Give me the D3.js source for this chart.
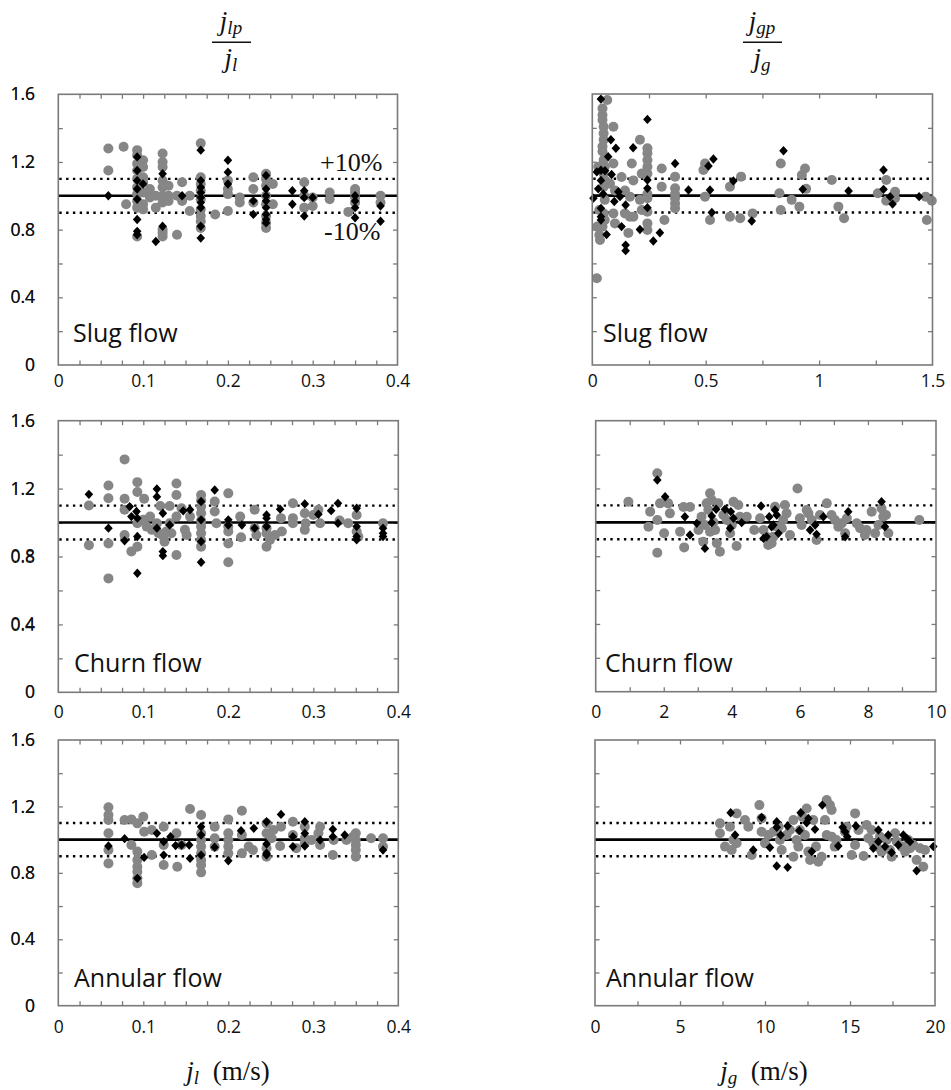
<!DOCTYPE html>
<html>
<head>
<meta charset="utf-8">
<script src="https://cdn.jsdelivr.net/npm/d3@7"></script>
<style>
  body { margin: 0; background: #fff; }
  svg { display: block; }
</style>
</head>
<body>
<script>
// ---- Measured ratios: gray circles and black diamonds, [superficial velocity, ratio] ----
const slugJlCircles = [
  [0.059,1.28],[0.059,1.15],[0.077,1.29],[0.08,0.95],
  [0.093,1.27],[0.093,1.24],[0.093,1.19],[0.093,1.15],[0.093,1.10],[0.093,1.05],[0.093,1.01],[0.093,0.97],[0.093,0.93],[0.093,0.76],
  [0.1,1.21],[0.1,1.17],[0.1,1.11],[0.1,1.08],[0.1,1.02],[0.1,0.95],[0.1,0.92],
  [0.108,1.04],[0.108,0.99],[0.115,1.0],[0.115,0.93],
  [0.123,1.25],[0.123,1.2],[0.123,1.17],[0.123,1.09],[0.123,1.05],[0.123,1.0],[0.123,0.96],[0.123,0.8],[0.123,0.78],[0.123,0.76],
  [0.13,1.06],[0.13,1.0],[0.13,0.97],[0.14,0.77],[0.14,1.0],[0.146,1.08],[0.146,0.97],[0.155,1.0],[0.155,0.91],
  [0.168,1.31],[0.168,1.11],[0.168,1.07],[0.168,1.03],[0.168,0.98],[0.168,0.92],[0.168,0.88],[0.168,0.85],[0.168,0.81],
  [0.185,0.89],[0.2,1.09],[0.2,1.04],[0.2,1.01],[0.2,0.91],[0.214,0.99],[0.214,0.96],
  [0.23,1.11],[0.23,1.04],[0.23,0.96],
  [0.245,1.13],[0.245,1.1],[0.245,1.06],[0.245,1.0],[0.245,0.95],[0.245,0.88],[0.245,0.84],[0.245,0.81],
  [0.253,1.07],[0.253,0.95],[0.29,1.08],[0.29,1.0],[0.29,0.93],[0.3,0.94],[0.3,0.99],
  [0.32,1.02],[0.32,0.98],[0.342,0.905],[0.35,1.04],[0.35,1.02],[0.35,0.99],[0.35,0.96],[0.38,1.0],[0.38,0.96]
];
const slugJlDiamonds = [
  [0.059,1.0],
  [0.093,1.23],[0.093,1.15],[0.093,1.09],[0.093,1.04],[0.093,0.98],[0.093,0.86],[0.093,0.79],[0.093,0.77],
  [0.1,1.07],[0.115,0.73],[0.123,1.13],[0.123,0.82],[0.146,1.0],
  [0.168,1.27],[0.168,1.09],[0.168,1.05],[0.168,1.02],[0.168,0.99],[0.168,0.96],[0.168,0.93],[0.168,0.82],[0.168,0.75],
  [0.2,1.21],[0.2,1.14],[0.2,1.07],[0.23,0.97],[0.23,0.89],
  [0.245,1.12],[0.245,1.04],[0.245,1.0],[0.245,0.97],[0.245,0.93],[0.245,0.89],[0.245,0.86],[0.245,0.84],
  [0.276,1.03],[0.276,0.95],[0.29,1.03],[0.29,0.99],[0.29,0.88],[0.3,0.99],
  [0.35,1.0],[0.35,0.97],[0.35,0.93],[0.35,0.87],[0.38,0.94],[0.38,0.85]
];

const slugJgCircles = [
  [0.02,0.512],[0.026,1.17],[0.031,0.915],[0.022,0.817],[0.031,0.768],[0.034,0.738],
  [0.045,1.515],[0.045,1.476],[0.045,1.447],[0.05,1.407],[0.05,1.368],[0.05,1.33],[0.045,1.29],[0.045,1.26],
  [0.05,1.21],[0.055,1.17],[0.05,1.13],[0.055,1.09],[0.05,1.053],[0.055,0.975],[0.05,0.895],[0.055,0.856],[0.045,0.817],
  [0.066,1.565],[0.093,1.407],[0.093,1.19],[0.078,1.07],[0.1,1.03],[0.093,0.895],[0.1,0.836],
  [0.129,1.11],[0.144,1.03],[0.144,0.895],[0.159,0.78],[0.166,0.994],[0.166,0.876],[0.181,0.876],[0.181,1.09],
  [0.174,1.19],[0.21,1.33],[0.218,1.13],[0.21,0.975],[0.218,0.915],
  [0.243,1.28],[0.243,1.25],[0.243,1.21],[0.243,1.17],[0.243,1.13],[0.243,1.01],[0.243,0.984],[0.243,0.905],[0.243,0.836],[0.243,0.797],
  [0.306,1.16],[0.306,1.053],[0.318,0.856],
  [0.365,1.112],[0.365,1.043],[0.365,1.01],[0.365,0.984],[0.365,0.954],[0.365,0.925],
  [0.497,1.19],[0.49,1.151],[0.497,0.994],[0.519,0.856],
  [0.607,1.053],[0.607,0.876],[0.652,0.866],[0.656,1.112],[0.707,0.895],
  [0.825,1.014],[0.831,1.19],[0.831,0.915],[0.879,0.975],[0.913,0.935],[0.924,1.122],[0.938,1.16],[0.943,1.04],
  [1.056,1.092],[1.085,0.935],[1.11,0.866],
  [1.259,1.014],[1.296,1.092],[1.296,0.97],[1.335,1.023],[1.335,0.984],[1.47,0.994],[1.475,0.856],[1.497,0.97]
];
const slugJgDiamonds = [
  [0.005,0.985],[0.038,1.57],[0.02,1.14],[0.026,1.04],[0.038,1.15],[0.038,1.09],[0.038,0.925],[0.038,0.876],[0.038,0.856],
  [0.048,1.01],[0.056,1.147],[0.07,1.23],[0.082,1.33],[0.085,1.125],[0.063,0.77],[0.104,1.28],[0.097,0.965],
  [0.115,1.023],[0.122,0.994],[0.129,0.817],[0.147,0.945],[0.147,0.708],[0.147,0.675],[0.18,1.283],[0.21,0.80],
  [0.243,1.45],[0.243,1.092],[0.243,1.043],[0.243,0.929],[0.269,0.732],[0.298,0.781],[0.365,1.19],[0.424,1.033],
  [0.512,1.175],[0.534,1.216],[0.519,1.033],[0.527,0.9],[0.622,1.086],[0.703,0.85],[0.843,1.265],[0.928,1.037],
  [1.13,1.027],[1.284,1.151],[1.284,1.037],[1.313,0.994],[1.324,0.95],[1.441,0.994]
];

const churnJlCircles = [
  [0.036,1.10],[0.036,0.867],[0.059,1.218],[0.059,1.143],[0.059,0.877],[0.059,0.671],
  [0.078,1.372],[0.078,1.14],[0.078,1.075],[0.078,0.927],[0.086,0.83],
  [0.093,1.238],[0.093,1.18],[0.093,0.996],[0.093,0.858],[0.101,1.14],
  [0.1,1.016],[0.104,0.976],[0.108,1.035],[0.11,0.957],[0.116,0.996],[0.118,0.937],[0.124,0.917],[0.125,0.887],
  [0.127,0.947],[0.131,0.996],[0.133,0.937],[0.12,1.097],[0.131,1.097],
  [0.139,1.23],[0.139,1.162],[0.139,1.035],[0.139,0.809],
  [0.145,1.084],[0.149,0.957],[0.151,0.927],[0.155,1.035],
  [0.168,1.162],[0.168,1.13],[0.168,1.094],[0.168,1.055],[0.168,1.01],[0.168,0.976],[0.168,0.937],[0.168,0.897],[0.168,0.858],
  [0.184,1.124],[0.184,1.065],[0.186,0.996],
  [0.2,1.172],[0.2,0.976],[0.2,0.947],[0.2,0.877],[0.2,0.766],
  [0.214,1.035],[0.215,0.913],[0.231,1.075],[0.231,0.967],[0.233,0.927],
  [0.245,0.967],[0.245,0.937],[0.245,0.858],[0.249,0.897],[0.255,0.927],[0.263,0.947],[0.262,1.026],
  [0.276,1.114],[0.276,1.026],[0.276,0.996],[0.29,1.055],[0.29,0.957],[0.291,0.996],[0.3,1.045],[0.306,1.075],[0.308,0.996],
  [0.331,1.012],[0.341,0.996],[0.351,1.045],[0.351,0.947],[0.353,0.917],[0.382,0.996]
];
const churnJlDiamonds = [
  [0.036,1.166],[0.059,0.967],[0.078,0.893],[0.084,1.094],[0.086,1.035],[0.092,1.065],[0.093,1.026],[0.093,0.918],[0.093,0.701],
  [0.116,1.198],[0.116,1.152],[0.116,0.967],[0.123,1.055],[0.123,0.829],[0.123,0.805],[0.131,0.986],
  [0.147,1.069],[0.155,1.075],[0.168,1.124],[0.168,1.016],[0.168,0.888],[0.168,0.766],[0.184,1.192],
  [0.2,1.016],[0.2,0.986],[0.216,0.986],[0.231,0.967],[0.245,1.045],[0.245,1.026],[0.245,0.977],[0.261,1.079],
  [0.29,1.11],[0.306,1.049],[0.321,1.07],[0.329,1.113],[0.329,0.996],
  [0.351,1.084],[0.351,0.977],[0.351,0.918],[0.351,0.898],[0.382,0.967],[0.382,0.937],[0.382,0.918]
];

const churnJgCircles = [
  [0.96,1.122],[1.55,0.974],[1.6,1.063],[1.81,1.29],[1.81,1.014],[1.81,0.82],[1.89,1.112],
  [2.01,0.935],[2.18,1.053],[2.13,1.112],[2.48,0.945],[2.58,1.09],[2.6,0.852],[2.77,1.09],
  [3.02,0.955],[3.11,1.033],[3.16,0.886],[3.21,0.984],[3.26,1.112],[3.36,1.171],[3.41,1.132],[3.31,1.073],
  [3.36,0.945],[3.46,1.0],[3.51,0.955],[3.56,0.876],[3.65,0.827],[3.6,1.112],
  [3.75,1.043],[3.85,1.014],[3.95,0.935],[4.0,0.984],[4.05,1.122],[4.19,1.102],[4.14,0.86],[4.24,1.033],[4.44,1.033],
  [4.66,0.955],[4.83,1.024],[4.93,0.955],[5.02,0.915],[5.07,0.866],[5.17,0.876],[5.22,0.915],[5.27,1.092],
  [5.32,0.974],[5.47,0.965],[5.56,1.102],[5.61,1.053],[5.51,1.014],[5.71,0.925],
  [5.93,1.2],[6.0,1.024],[6.05,0.984],[6.2,1.073],[6.25,1.053],[6.35,1.014],[6.49,0.896],[6.59,1.043],
  [6.79,1.112],[6.93,1.043],[7.03,1.014],[7.13,0.974],[7.23,0.994],[7.33,0.935],[7.38,1.024],
  [7.67,0.994],[7.77,0.965],[7.91,0.925],[7.96,0.955],[8.11,1.063],[8.21,0.935],[8.31,0.984],[8.4,1.082],
  [8.45,1.033],[8.53,1.043],[8.6,0.935],[9.51,1.014]
];
const churnJgDiamonds = [
  [1.81,1.25],[2.04,1.151],[2.62,1.033],[2.77,0.925],[2.97,0.994],[3.21,0.846],[3.41,0.998],[3.41,1.037],[3.54,1.077],
  [3.8,1.077],[3.95,0.965],[3.97,1.063],[4.05,1.024],[4.29,0.998],
  [4.86,1.096],[4.93,0.905],[5.02,0.915],[5.1,1.033],[5.22,0.984],[5.27,1.073],[5.32,1.043],[5.37,0.935],[5.17,0.974],
  [6.3,0.955],[6.45,0.984],[6.49,0.929],[6.69,1.033],[7.33,0.915],[7.42,1.063],[8.4,1.122],[8.5,0.974]
];

const annularJlCircles = [
  [0.059,1.195],[0.059,1.148],[0.059,1.118],[0.059,1.038],[0.059,0.938],[0.059,0.857],
  [0.078,1.118],[0.086,1.122],[0.086,0.968],
  [0.093,1.098],[0.093,0.928],[0.093,0.877],[0.093,0.837],[0.093,0.807],[0.093,0.767],[0.093,0.737],
  [0.1,1.138],[0.101,1.048],[0.11,1.058],[0.11,0.907],[0.124,1.078],[0.124,0.968],[0.124,0.847],
  [0.139,1.038],[0.14,0.837],[0.145,0.968],[0.155,1.184],
  [0.168,1.148],[0.168,1.038],[0.168,0.998],[0.168,0.958],[0.168,0.918],[0.168,0.877],[0.168,0.847],[0.168,0.803],
  [0.184,1.078],[0.184,1.008],[0.184,0.958],
  [0.2,1.122],[0.2,1.038],[0.2,0.998],[0.2,0.958],[0.2,0.918],
  [0.216,1.174],[0.216,1.028],[0.216,0.918],[0.224,0.958],[0.229,0.938],
  [0.245,1.098],[0.245,1.038],[0.245,0.948],[0.245,0.897],[0.251,1.008],[0.253,1.058],[0.261,0.962],[0.262,1.078],
  [0.276,1.108],[0.276,1.028],[0.28,0.948],[0.29,1.078],[0.29,1.008],[0.29,0.978],
  [0.298,0.998],[0.306,1.038],[0.308,1.078],[0.308,0.968],[0.323,0.907],[0.324,0.998],[0.339,0.998],
  [0.35,1.038],[0.35,0.998],[0.35,0.968],[0.35,0.938],[0.35,0.897],[0.347,1.018],
  [0.368,1.008],[0.382,1.008],[0.382,0.958]
];
const annularJlDiamonds = [
  [0.059,0.962],[0.078,1.006],[0.093,0.767],[0.101,0.893],[0.116,1.038],[0.124,0.988],[0.124,0.907],[0.132,1.018],
  [0.138,0.964],[0.145,0.968],[0.154,0.968],[0.155,0.887],[0.168,1.078],[0.168,1.028],[0.168,0.907],
  [0.184,0.954],[0.2,0.873],[0.215,1.054],[0.23,1.068],
  [0.245,1.108],[0.245,0.974],[0.245,0.918],[0.245,0.907],[0.262,1.152],[0.276,1.018],[0.276,0.958],
  [0.29,1.108],[0.29,1.038],[0.29,0.962],[0.308,0.998],[0.323,1.062],[0.323,1.018],[0.337,1.028],[0.382,0.938]
];

const annularJgCircles = [
  [7.35,1.098],[7.35,1.038],[7.65,0.958],[7.94,1.078],[8.04,0.938],[8.14,0.998],[8.33,1.158],[8.33,0.978],
  [8.82,1.118],[9.02,1.078],[9.22,0.907],[9.67,1.208],[9.8,1.128],[9.8,1.048],
  [10.0,0.978],[10.2,1.028],[10.5,1.048],[10.8,1.078],[10.88,0.998],[10.98,0.938],
  [11.27,1.028],[11.47,1.058],[11.67,1.118],[11.67,0.897],[11.86,0.998],[11.96,0.958],
  [12.06,1.058],[12.2,1.138],[12.35,1.028],[12.45,1.188],[12.55,0.928],[12.65,0.877],[12.84,1.118],[13.0,0.958],
  [13.14,0.867],[13.33,0.897],[13.53,1.118],[13.63,1.238],[13.82,1.208],[13.92,1.178],[13.63,1.028],[13.92,1.018],
  [14.1,0.958],[14.2,0.998],[14.7,1.048],[14.8,1.078],[15.1,0.907],[15.3,1.158],[15.3,0.968],[15.5,1.058],
  [15.8,0.901],[15.98,1.088],[16.08,1.008],[16.27,1.058],[16.37,0.978],[16.57,0.958],[16.76,1.018],
  [16.86,0.928],[17.16,0.998],[17.35,0.938],[17.45,0.897],[17.65,1.038],[17.75,0.988],[18.04,0.958],
  [18.24,0.928],[18.43,0.998],[18.53,0.948],[18.73,0.968],[18.92,0.877],[19.12,0.948],[19.31,0.837],[19.41,0.938]
];
const annularJgDiamonds = [
  [7.98,1.162],[8.24,1.028],[9.31,0.938],[9.8,1.134],[10.29,0.952],[10.69,1.108],[10.69,1.074],[10.69,0.841],
  [10.92,1.028],[11.33,1.082],[11.33,0.833],[12.02,1.054],[12.1,1.162],[12.45,1.102],[12.55,1.128],[12.75,0.928],
  [12.94,1.062],[13.37,1.208],[14.31,0.962],[14.57,1.074],[14.71,1.048],[14.84,1.018],[15.35,1.082],
  [16.37,0.948],[16.67,1.058],[16.67,0.988],[17.06,0.958],[17.25,1.028],[17.45,0.922],[17.84,0.968],
  [18.14,1.028],[18.33,1.008],[18.53,0.988],[18.92,0.813],[19.9,0.958]
];

// ---- Axis tick labels ----
const ratioTickLabels = [0, 0.4, 0.8, 1.2, 1.6];
const jlTickLabels = [0, 0.1, 0.2, 0.3, 0.4];
const jgSlugTickLabels = [0, 0.5, 1, 1.5];
const jgChurnTickLabels = [0, 2, 4, 6, 8, 10];
const jgAnnularTickLabels = [0, 5, 10, 15, 20];

// ---- Reference band: ideal ratio and +/-10% ----
const referenceRatio = 1.0;
const bandRatios = [1.1, 0.9];

// ---- Panel layout ----
const panels = [
  { box: [58.3, 397.5, 94.3, 365], xMax: 0.4, minor: 0.025, labels: jlTickLabels, labelY: 381,
    circles: slugJlCircles, diamonds: slugJlDiamonds, name: "Slug flow", nameXY: [73, 342] },
  { box: [592.3, 932.5, 94, 365], xMax: 1.5, minor: 0.25, labels: jgSlugTickLabels, labelY: 381,
    circles: slugJgCircles, diamonds: slugJgDiamonds, name: "Slug flow", nameXY: [603, 342] },
  { box: [58.3, 398.3, 420.7, 692.3], xMax: 0.4, minor: 0.025, labels: jlTickLabels, labelY: 712,
    circles: churnJlCircles, diamonds: churnJlDiamonds, name: "Churn flow", nameXY: [74, 672] },
  { box: [595.7, 936, 420.7, 691.7], xMax: 10, minor: 1, labels: jgChurnTickLabels, labelY: 712,
    circles: churnJgCircles, diamonds: churnJgDiamonds, name: "Churn flow", nameXY: [605, 672] },
  { box: [58.3, 398.3, 740, 1005.7], xMax: 0.4, minor: 0.025, labels: jlTickLabels, labelY: 1027,
    circles: annularJlCircles, diamonds: annularJlDiamonds, name: "Annular flow", nameXY: [74, 987] },
  { box: [595, 935, 740, 1005.7], xMax: 20, minor: 2.5, labels: jgAnnularTickLabels, labelY: 1027,
    circles: annularJgCircles, diamonds: annularJgDiamonds, name: "Annular flow", nameXY: [606, 987] }
];

const W = 951, H = 1090;
const frameColor = "#7a7a7a";
const circleColor = "#868686";
const sansFont = "'Open Sans', 'DejaVu Sans', sans-serif";
const serifFont = "'Liberation Serif', 'DejaVu Serif', serif";

const svg = d3.select("body").append("svg")
  .attr("width", W).attr("height", H)
  .attr("xmlns", "http://www.w3.org/2000/svg");

svg.append("rect").attr("width", W).attr("height", H).attr("fill", "#fff");

const diamondPath = (hw, hh) => `M0,${-hh}L${hw},0L0,${hh}L${-hw},0Z`;

function ticksBetween(max, step) {
  const out = [];
  for (let i = 1; i * step < max - 1e-9; i++) out.push(+(i * step).toFixed(6));
  return out;
}

panels.forEach(p => {
  const [x0, x1, y0, y1] = p.box;
  const x = d3.scaleLinear().domain([0, p.xMax]).range([x0, x1]);
  const y = d3.scaleLinear().domain([0, 1.6]).range([y1, y0]);
  const g = svg.append("g");

  const minorX = ticksBetween(p.xMax, p.minor);
  const minorY = ticksBetween(1.6, 0.2);
  const tickLen = 4.5;

  // inward tick marks on all four sides
  const axes = [
    { ax: d3.axisBottom(x), t: `translate(0,${y1})`, vals: minorX },
    { ax: d3.axisTop(x), t: `translate(0,${y0})`, vals: minorX },
    { ax: d3.axisLeft(y), t: `translate(${x0},0)`, vals: minorY },
    { ax: d3.axisRight(y), t: `translate(${x1},0)`, vals: minorY }
  ];
  axes.forEach(a => {
    const ag = g.append("g").attr("transform", a.t)
      .call(a.ax.tickValues(a.vals).tickSizeInner(-tickLen).tickSizeOuter(0).tickFormat(""));
    ag.select(".domain").remove();
    ag.selectAll("line").attr("stroke", frameColor).attr("stroke-width", 1.3);
  });

  // tick labels
  const xl = g.append("g").attr("transform", `translate(0,${p.labelY})`)
    .call(d3.axisBottom(x).tickValues(p.labels).tickSize(0).tickPadding(0).tickFormat(d => String(d)));
  xl.select(".domain").remove();
  xl.selectAll("text").attr("dy", "0.35em").attr("font-family", sansFont)
    .attr("font-size", 17.5).attr("fill", "#111");

  const yl = g.append("g").attr("transform", `translate(35,0)`)
    .call(d3.axisLeft(y).tickValues(ratioTickLabels).tickSize(0).tickPadding(0).tickFormat(d => String(d)));
  yl.select(".domain").remove();
  yl.selectAll("text").attr("font-family", sansFont).attr("font-size", 17.5).attr("fill", "#111");

  // reference lines
  g.append("line").attr("x1", x0).attr("x2", x1)
    .attr("y1", y(referenceRatio)).attr("y2", y(referenceRatio))
    .attr("stroke", "#000").attr("stroke-width", 2.6);
  bandRatios.forEach(r => {
    g.append("line").attr("x1", x0 + 1).attr("x2", x1)
      .attr("y1", y(r)).attr("y2", y(r))
      .attr("stroke", "#000").attr("stroke-width", 2.4)
      .attr("stroke-dasharray", "2.4,4.4");
  });

  // markers
  g.append("g").selectAll("circle").data(p.circles).join("circle")
    .attr("cx", d => x(d[0])).attr("cy", d => y(d[1])).attr("r", 5)
    .attr("fill", circleColor);
  g.append("g").selectAll("path").data(p.diamonds).join("path")
    .attr("transform", d => `translate(${x(d[0])},${y(d[1])})`)
    .attr("d", diamondPath(4.3, 4.7)).attr("fill", "#000");

  // frame
  g.append("rect").attr("x", x0).attr("y", y0).attr("width", x1 - x0).attr("height", y1 - y0)
    .attr("fill", "none").attr("stroke", frameColor).attr("stroke-width", 1.6);

  // regime name
  g.append("text").attr("x", p.nameXY[0]).attr("y", p.nameXY[1])
    .attr("font-family", sansFont).attr("font-size", 25).attr("fill", "#111").text(p.name);
});

// +/-10% annotations on the first panel
svg.append("text").attr("x", 320).attr("y", 171).attr("font-family", serifFont)
  .attr("font-size", 26).attr("fill", "#111").text("+10%");
svg.append("text").attr("x", 324).attr("y", 240).attr("font-family", serifFont)
  .attr("font-size", 26).attr("fill", "#111").text("-10%");

// column titles: ratio fractions
function fraction(cx, numSub, denSub) {
  const g = svg.append("g").attr("font-family", serifFont).attr("fill", "#111");
  const num = g.append("text").attr("x", cx).attr("y", 30).attr("text-anchor", "middle");
  num.append("tspan").attr("font-style", "italic").attr("font-size", 27).text("j");
  num.append("tspan").attr("font-style", "italic").attr("font-size", 19).attr("dy", 4).text(numSub);
  g.append("line").attr("x1", cx - 19).attr("x2", cx + 20).attr("y1", 42.3).attr("y2", 42.3)
    .attr("stroke", "#111").attr("stroke-width", 1.5);
  const den = g.append("text").attr("x", cx).attr("y", 67).attr("text-anchor", "middle");
  den.append("tspan").attr("font-style", "italic").attr("font-size", 27).text("j");
  den.append("tspan").attr("font-style", "italic").attr("font-size", 19).attr("dy", 4).text(denSub);
}
fraction(231, "lp", "l");
fraction(762, "gp", "g");

// x-axis titles
function axisTitle(cx, sub) {
  const t = svg.append("text").attr("x", cx).attr("y", 1080).attr("text-anchor", "middle")
    .attr("font-family", serifFont).attr("fill", "#111");
  t.append("tspan").attr("font-style", "italic").attr("font-size", 27).text("j");
  t.append("tspan").attr("font-style", "italic").attr("font-size", 19).attr("dy", 4).text(sub);
  t.append("tspan").attr("font-family", serifFont).attr("font-style", "normal")
    .attr("font-size", 27).attr("dy", -4).text("\u2002(m/s)");
}
axisTitle(228, "l");
axisTitle(764, "g");
</script>
</body>
</html>
